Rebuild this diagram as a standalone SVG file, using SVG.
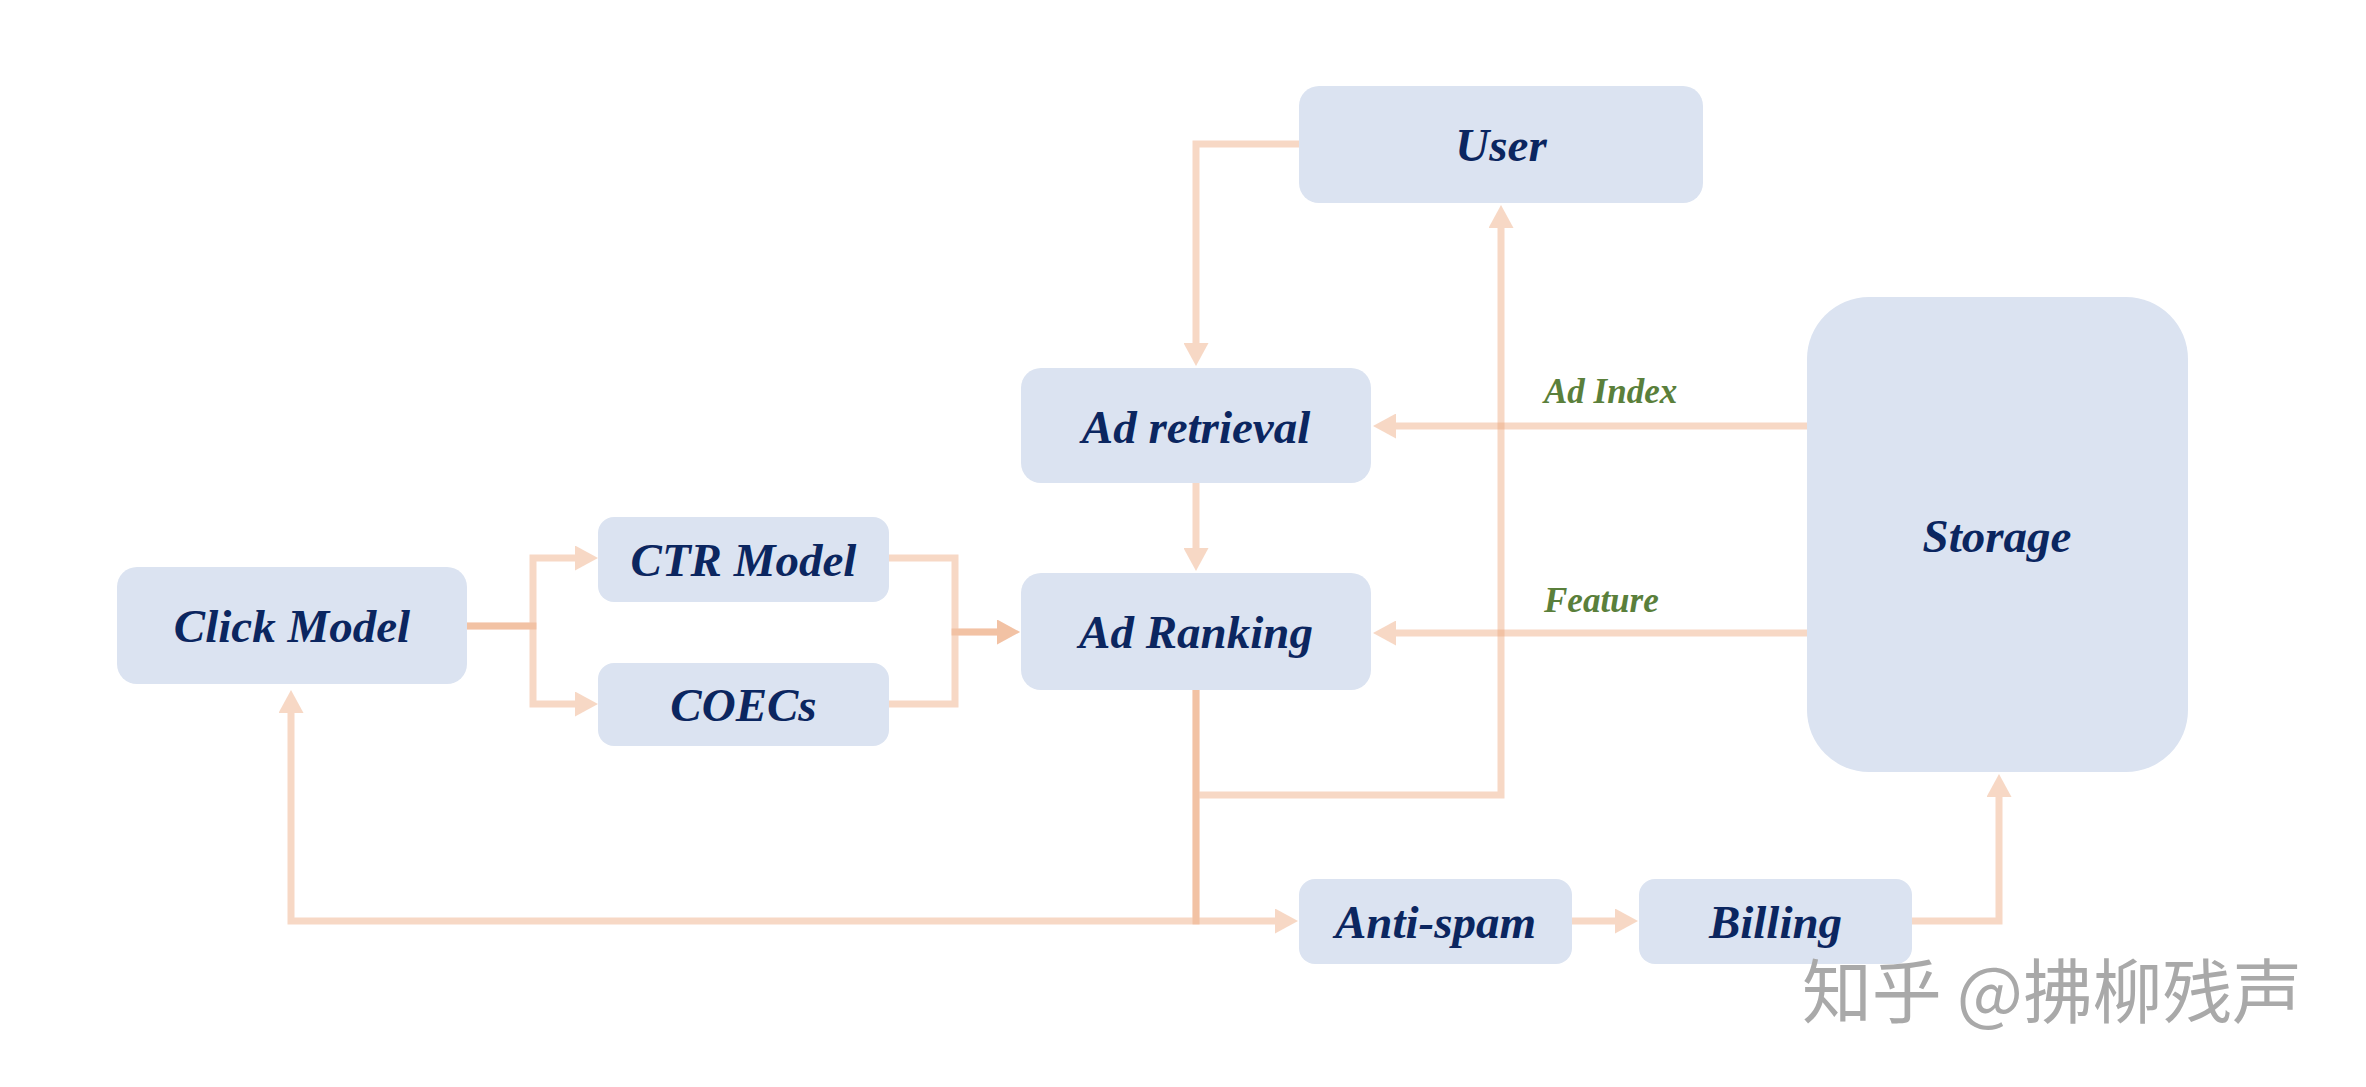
<svg xmlns="http://www.w3.org/2000/svg" width="2366" height="1087" viewBox="0 0 2366 1087">
<style>
.node{fill:#DBE3F1}
.lbl{font-family:"Liberation Serif","Times New Roman",serif;font-weight:bold;font-style:italic;font-size:47px;fill:#0B2660;text-anchor:middle}
.edge{fill:none;stroke:#ECA579;stroke-opacity:0.43;stroke-width:7;stroke-linejoin:miter;stroke-linecap:butt}
.elbl{font-family:"Liberation Serif","Times New Roman",serif;font-weight:bold;font-style:italic;font-size:35px;fill:#5A7F3B}
.wm{font-family:"Noto Sans CJK SC","Noto Sans",sans-serif;font-size:70px;fill:#A9A9A9}
</style>
<defs>
<marker id="ah" markerUnits="userSpaceOnUse" markerWidth="23" markerHeight="25" viewBox="0 0 23 25" refX="0" refY="12.5" orient="auto">
<path d="M0,0 L23,12.5 L0,25 Z" fill="#ECA579" fill-opacity="0.43"/>
</marker>
</defs>
<rect width="2366" height="1087" fill="#FFFFFF"/>
<g id="connectors">
<path class="edge" d="M1299,144 H1196 V343" marker-end="url(#ah)"/>
<path class="edge" d="M1196,483 V548" marker-end="url(#ah)"/>
<path class="edge" d="M1807,426 H1396" marker-end="url(#ah)"/>
<path class="edge" d="M1807,633 H1396" marker-end="url(#ah)"/>
<path class="edge" d="M467,626 H533 V558 H575" marker-end="url(#ah)"/>
<path class="edge" d="M467,626 H533 V704 H575" marker-end="url(#ah)"/>
<path class="edge" d="M889,558 H955 V632 H997" marker-end="url(#ah)"/>
<path class="edge" d="M889,704 H955 V632 H997" marker-end="url(#ah)"/>
<path class="edge" d="M1199.5,795 H1501 V228" marker-end="url(#ah)"/>
<path class="edge" d="M1196,690 V921 H1275" marker-end="url(#ah)"/>
<path class="edge" d="M1196,690 V921 H291 V713" marker-end="url(#ah)"/>
<path class="edge" d="M1572,921 H1615" marker-end="url(#ah)"/>
<path class="edge" d="M1912,921 H1999 V797" marker-end="url(#ah)"/>
<text class="elbl" x="1544" y="403">Ad Index</text>
<text class="elbl" x="1544" y="612">Feature</text>
</g>
<g id="user"><rect class="node" x="1299" y="86" width="404" height="117" rx="20"/><text class="lbl" x="1501" y="161">User</text></g>
<g id="ad-retrieval"><rect class="node" x="1021" y="368" width="350" height="115" rx="20"/><text class="lbl" x="1196" y="443">Ad retrieval</text></g>
<g id="ad-ranking"><rect class="node" x="1021" y="573" width="350" height="117" rx="20"/><text class="lbl" x="1196" y="648">Ad Ranking</text></g>
<g id="click-model"><rect class="node" x="117" y="567" width="350" height="117" rx="20"/><text class="lbl" x="292" y="642">Click Model</text></g>
<g id="ctr-model"><rect class="node" x="598" y="517" width="291" height="85" rx="16"/><text class="lbl" x="743.5" y="576">CTR Model</text></g>
<g id="coecs"><rect class="node" x="598" y="663" width="291" height="83" rx="16"/><text class="lbl" x="743.5" y="721">COECs</text></g>
<g id="storage"><rect class="node" x="1807" y="297" width="381" height="475" rx="62"/><text class="lbl" x="1997" y="552">Storage</text></g>
<g id="anti-spam"><rect class="node" x="1299" y="879" width="273" height="85" rx="16"/><text class="lbl" x="1435.5" y="938">Anti-spam</text></g>
<g id="billing"><rect class="node" x="1639" y="879" width="273" height="85" rx="16"/><text class="lbl" x="1775.5" y="938">Billing</text></g>
<text class="wm" x="1802" y="1018" textLength="500" lengthAdjust="spacing">知乎 @拂柳残声</text>
</svg>
